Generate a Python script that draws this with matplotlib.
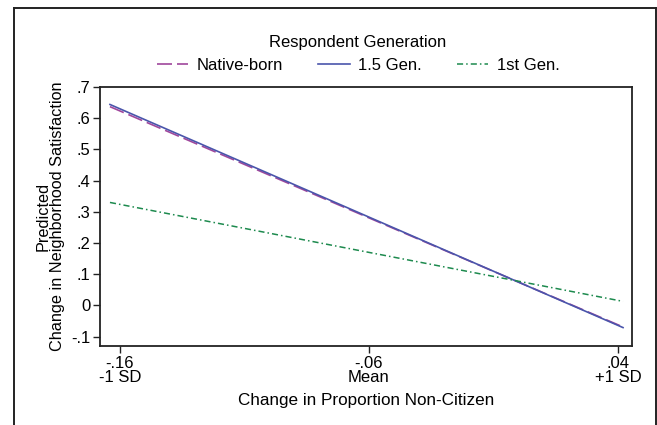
'''predicted change in neighborhood satisfaction by respondent generation'''
import matplotlib
matplotlib.use('Agg')
import matplotlib.pyplot as plt
from matplotlib.lines import Line2D

plt.rcParams['font.family'] = ['Liberation Sans', 'DejaVu Sans']

# data
x_vals = [-0.164, 0.042]
native_born = [0.637, -0.069]
gen_15 = [0.644, -0.071]
first_gen = [0.330, 0.013]

xtick_pos = [-0.16, -0.06, 0.04]
xtick_labels = ['-.16\n-1 SD', '-.06\nMean', '.04\n+1 SD']
ytick_pos = [-0.1, 0, 0.1, 0.2, 0.3, 0.4, 0.5, 0.6, 0.7]
ytick_labels = ['-.1', '0', '.1', '.2', '.3', '.4', '.5', '.6', '.7']

W, H = 657, 425
fig = plt.figure(figsize=(W / 100, H / 100), dpi=100)
ax = fig.add_axes([100 / W, 1 - 346 / H, 532 / W, 259 / H])

ax.plot(x_vals, native_born, color='#a0479c', lw=1.2, dashes=(9, 3), label='Native-born')
ax.plot(x_vals, gen_15, color='#4a55ab', lw=1.2, label='1.5 Gen.')
ax.plot(x_vals, first_gen, color='#1d8a4e', lw=1.1, dashes=(4, 2, 1, 2), label='1st Gen.')

ax.set_xlim(-0.168, 0.0456)
ax.set_ylim(-0.13, 0.7)
ax.set_xticks(xtick_pos)
ax.set_xticklabels(xtick_labels, linespacing=0.9)
ax.set_yticks(ytick_pos)
ax.set_yticklabels(ytick_labels)
ax.tick_params(labelsize=12, length=5, width=1, color='#222222', pad=2)
for s in ax.spines.values():
    s.set_linewidth(1.3)
    s.set_color('#222222')

ax.set_xlabel('Change in Proportion Non-Citizen', fontsize=12.3, labelpad=6)
ax.set_ylabel('Predicted\nChange in Neighborhood Satisfaction', fontsize=11.7, labelpad=4,
              linespacing=1.0)

leg = fig.legend(loc='center', bbox_to_anchor=(358 / W, 1 - 54 / H), ncol=3,
                 title='Respondent Generation', frameon=False, fontsize=12,
                 title_fontsize=12, handlelength=1.9, columnspacing=2.1, handletextpad=0.5)
leg._legend_box.sep = 6

# outer frame, open at the bottom
fx0, fx1, fy = 13.5 / W, 655.5 / W, 1 - 7.5 / H
for xs, ys in [([fx0, fx1], [fy, fy]), ([fx0, fx0], [0, fy]), ([fx1, fx1], [0, fy])]:
    fig.add_artist(Line2D(xs, ys, color='#222222', lw=1.4, transform=fig.transFigure))

fig.savefig('out.png', dpi=100)
